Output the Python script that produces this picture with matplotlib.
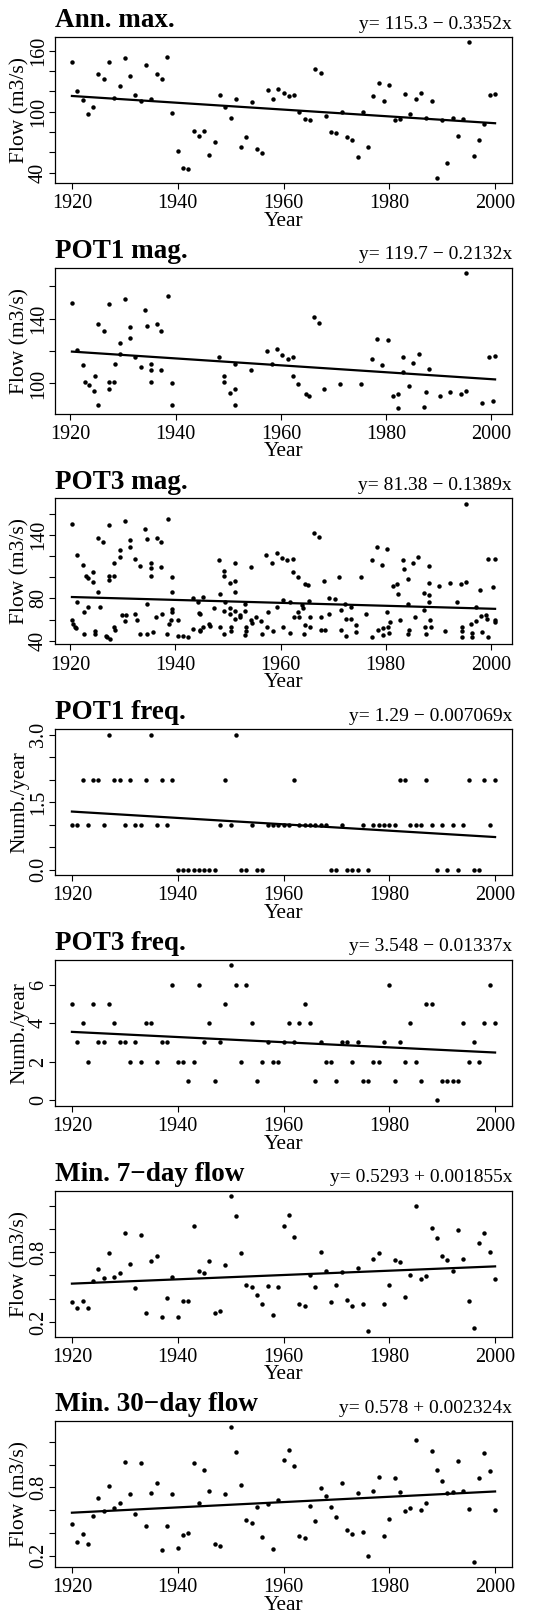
import matplotlib
matplotlib.use("Agg")
import matplotlib.pyplot as plt
import numpy as np

plt.rcParams["font.family"] = ["Liberation Serif", "DejaVu Serif"]

years = np.arange(1920, 2001)

# Ann. max.
ann_max = [149, 120, 111, 98, 104, 137, 132, 149, 113, 125,
           153, 135, 116, 110, 146, 112, 137, 132, 154, 99,
           61, 44, 43, 81, 76, 81, 57, 70, 116, 104,
           94, 112, 65, 75, 109, 63, 59, 121, 112, 122,
           118, 115, 116, 100, 93, 92, 142, 138, 96, 80,
           79, 100, 75, 72, 55, 100, 65, 115, 128, 110,
           126, 92, 93, 117, 98, 112, 118, 94, 110, 35,
           92, 49, 94, 76, 93, 168, 56, 72, 88, 116, 117]

# POT1 magnitudes
pot1_x = [1920.3, 1921.3, 1922.4, 1922.7, 1923.5, 1924.4, 1924.7, 1925.3, 1925.3,
          1926.4, 1927.4, 1927.4, 1927.4, 1928.3, 1928.4, 1929.4, 1929.4, 1930.4,
          1931.3, 1931.3, 1932.3, 1933.4, 1934.2, 1934.6, 1935.3, 1935.3, 1935.3,
          1936.4, 1937.2, 1937.3, 1938.6, 1939.4, 1939.3, 1948.2, 1949.2, 1949.2,
          1950.3, 1951.3, 1951.3, 1951.3, 1954.3, 1957.3, 1958.3, 1959.2, 1960.3,
          1961.3, 1962.3, 1962.3, 1963.3, 1964.7, 1965.3, 1966.3, 1967.3, 1968.2,
          1971.3, 1975.3, 1977.3, 1978.3, 1979.2, 1980.3, 1981.3, 1982.2, 1982.3,
          1983.2, 1983.2, 1984.3, 1985.2, 1986.2, 1987.2, 1987.6, 1988.2, 1990.2,
          1992.2, 1994.2, 1995.2, 1995.2, 1998.3, 1999.5, 2000.3, 2000.7]
pot1_y = [149.6, 120.4, 111.6, 101.2, 98.8, 95.5, 104.9, 136.9, 86.7,
          132.4, 149.0, 101.2, 96.3, 101.2, 112.2, 125.1, 118.0, 151.8,
          134.9, 128.2, 116.5, 110.4, 145.3, 135.5, 112.2, 108.6, 101.2,
          136.7, 132.4, 108.6, 153.9, 100.0, 86.7, 116.5, 104.9, 101.2,
          94.3, 112.2, 96.3, 86.7, 108.6, 120.2, 112.2, 121.4, 117.8,
          115.3, 116.5, 104.3, 99.4, 93.3, 92.0, 141.0, 137.3, 96.3,
          99.4, 99.4, 115.3, 127.6, 111.6, 126.5, 92.0, 93.3, 84.7,
          116.5, 107.3, 98.2, 112.9, 118.4, 85.3, 94.5, 109.2, 92.0,
          94.5, 93.3, 168.0, 95.1, 88.2, 116.5, 89.0, 116.8]

# POT3 magnitudes
pot3_x = [1920.3, 1920.3, 1920.5, 1920.9, 1921.0, 1921.3, 1921.3,
          1922.4, 1922.6, 1922.6, 1923.0, 1923.4, 1923.4,
          1924.4, 1924.4, 1924.6, 1924.6, 1925.3, 1925.3, 1925.6, 1926.3,
          1926.7, 1926.9, 1927.3, 1927.3, 1927.3, 1927.5,
          1928.3, 1928.3, 1928.3, 1928.4, 1929.4, 1929.4,
          1929.9, 1930.4, 1930.4, 1930.5, 1931.3, 1931.3,
          1932.3, 1932.3, 1932.7, 1933.3, 1933.3,
          1934.2, 1934.6, 1934.6, 1934.6, 1935.3, 1935.3, 1935.3, 1935.7,
          1936.4, 1936.3, 1937.3, 1937.3, 1937.5, 1938.3, 1938.6, 1938.8,
          1939.4, 1939.3, 1939.4, 1939.4, 1939.1,
          1940.4, 1940.5, 1941.4, 1942.3, 1943.3, 1943.4,
          1944.2, 1944.4, 1944.6, 1944.6, 1944.6, 1945.2, 1945.3,
          1946.4, 1946.5, 1947.4, 1948.2, 1948.5, 1948.5,
          1949.3, 1949.3, 1949.4, 1949.3, 1949.3,
          1950.3, 1950.3, 1950.3, 1950.5, 1950.5,
          1951.3, 1951.3, 1951.3, 1951.3, 1951.3, 1952.2, 1952.3,
          1953.3, 1953.3, 1953.4, 1953.4, 1953.3,
          1954.3, 1954.4, 1954.6, 1955.3, 1956.3, 1956.5,
          1957.3, 1957.6, 1957.5, 1958.3, 1958.6, 1959.3, 1959.3,
          1960.3, 1960.4, 1960.4, 1961.3, 1961.7, 1961.8,
          1962.3, 1962.3, 1962.5, 1963.3, 1963.3, 1963.5,
          1964.1, 1964.3, 1964.5, 1964.6,
          1964.7, 1965.3, 1965.4, 1965.5, 1965.6, 1966.3,
          1967.3, 1967.6, 1967.6, 1968.2, 1968.5, 1969.3, 1969.3, 1970.3,
          1971.2, 1971.5, 1971.4, 1972.3, 1972.4, 1972.4,
          1973.3, 1973.3, 1974.3, 1974.3, 1975.3, 1976.3,
          1977.3, 1977.3, 1978.3, 1978.6, 1979.2, 1979.4, 1979.4,
          1980.3, 1980.3, 1980.4, 1980.6, 1981.3, 1980.8,
          1982.2, 1982.3, 1982.7, 1983.3, 1983.4,
          1984.3, 1984.3, 1984.5, 1984.3, 1985.2, 1985.5, 1986.2,
          1987.2, 1987.2, 1987.5, 1987.6,
          1988.2, 1988.2, 1988.2, 1988.2, 1988.5, 1988.6,
          1990.2, 1991.2, 1992.2, 1993.5,
          1994.3, 1994.5, 1994.5, 1994.5, 1995.2, 1995.3,
          1996.3, 1996.4, 1996.5, 1997.2, 1997.2,
          1998.0, 1998.2, 1998.3, 1999.0, 1999.3, 1999.4, 1999.5,
          2000.4, 2000.7, 2000.8, 2000.7]
pot3_y = [150.6, 59.5, 56.0, 53.0, 51.8, 120.7, 76.8,
          112.0, 67.4, 46.2, 101.4, 99.5, 72.0,
          105.4, 95.5, 48.7, 46.5, 137.5, 86.0, 72.0, 133.8,
          44.7, 43.1, 149.3, 101.7, 97.0, 41.6,
          101.4, 113.2, 53.4, 50.3, 126.3, 119.4,
          64.0, 153.0, 59.0, 64.0, 135.6, 128.8,
          117.0, 65.5, 60.0, 110.4, 46.2,
          145.9, 136.6, 74.9, 46.2, 113.2, 109.2, 101.0, 48.4,
          137.5, 62.7, 133.8, 109.5, 65.5, 46.2, 155.3, 56.2,
          100.1, 86.0, 69.6, 67.4, 59.6,
          59.6, 44.0, 44.0, 43.1, 80.8, 51.2,
          76.8, 66.5, 65.0, 50.3, 48.7, 81.1, 53.4,
          55.9, 54.0, 70.5, 116.6, 84.6, 53.4,
          105.7, 101.7, 76.8, 68.3, 46.5,
          94.5, 70.5, 65.2, 52.8, 49.0,
          113.2, 96.7, 86.0, 68.3, 60.2, 64.3, 62.1,
          75.2, 68.3, 53.4, 49.3, 45.6,
          109.5, 59.6, 56.5, 62.7, 58.7, 46.2,
          121.0, 67.4, 53.4, 113.2, 48.7, 122.9, 72.0,
          118.2, 78.3, 52.5, 116.0, 76.8, 46.9,
          117.0, 105.1, 62.1, 100.1, 67.1, 62.1,
          73.6, 70.5, 46.2, 55.0,
          93.9, 92.3, 77.7, 62.7, 52.5, 142.2,
          138.4, 62.7, 49.7, 96.4, 50.3, 80.8, 65.2, 79.9,
          100.1, 69.0, 50.3, 74.6, 60.9, 44.0,
          72.0, 60.9, 55.0, 48.4, 100.1, 65.2,
          116.3, 43.1, 128.8, 50.3, 111.3, 51.8, 45.6,
          127.2, 67.4, 53.4, 47.2, 91.4, 58.1,
          93.3, 84.0, 59.6, 116.6, 107.6,
          98.3, 74.9, 50.3, 46.5, 113.2, 62.7, 118.8,
          85.5, 69.0, 53.4, 46.2,
          110.7, 94.5, 83.3, 76.8, 59.6, 53.4,
          91.7, 48.7, 94.5, 76.8,
          93.3, 53.4, 48.7, 43.1, 169.6, 95.5,
          55.9, 47.2, 43.1, 71.5, 59.0,
          87.7, 63.4, 47.8, 64.3, 60.2, 43.4, 117.6,
          90.5, 59.6, 117.0, 58.1]

# POT1 frequency (events per year)
pot1_freq = [1, 1, 2, 1, 2, 2, 1, 3, 2, 2,
             1, 2, 1, 1, 2, 3, 1, 2, 1, 2,
             0, 0, 0, 0, 0, 0, 0, 0, 1, 2,
             1, 3, 0, 0, 1, 0, 0, 1, 1, 1,
             1, 1, 2, 1, 1, 1, 1, 1, 1, 0,
             0, 1, 0, 0, 0, 1, 0, 1, 1, 1,
             1, 1, 2, 2, 1, 1, 1, 2, 1, 0,
             1, 0, 1, 0, 1, 2, 0, 0, 2, 1, 2]

# POT3 frequency
pot3_freq = [5, 3, 4, 2, 5, 3, 3, 5, 4, 3,
             3, 2, 3, 2, 4, 4, 2, 3, 3, 6,
             2, 2, 1, 2, 6, 3, 4, 1, 3, 5,
             7, 6, 2, 6, 4, 1, 2, 3, 2, 2,
             3, 4, 3, 4, 5, 4, 1, 3, 2, 2,
             1, 3, 3, 2, 3, 1, 1, 2, 2, 3,
             6, 1, 3, 2, 4, 2, 1, 5, 5, 0,
             1, 1, 1, 1, 4, 2, 3, 2, 4, 6, 4]

# Min. 7-day flow
min7 = [0.367, 0.316, 0.381, 0.316, 0.554, 0.656, 0.579, 0.792, 0.588, 0.622,
        0.961, 0.698, 0.494, 0.944, 0.274, 0.724, 0.766, 0.240, 0.409, 0.588,
        0.240, 0.384, 0.384, 1.021, 0.639, 0.622, 0.724, 0.274, 0.291, 0.690,
        1.284, 1.114, 0.792, 0.520, 0.497, 0.435, 0.358, 0.511, 0.257, 0.497,
        1.021, 1.123, 0.927, 0.358, 0.341, 0.605, 0.503, 0.800, 0.639, 0.375,
        0.520, 0.630, 0.392, 0.341, 0.664, 0.358, 0.121, 0.741, 0.792, 0.350,
        0.520, 0.732, 0.715, 0.418, 0.605, 1.199, 0.571, 0.596, 1.004, 0.919,
        0.766, 0.732, 0.639, 0.987, 0.741, 0.384, 0.146, 0.876, 0.961, 0.800,
        0.571]

# Min. 30-day flow
min30 = [0.478, 0.320, 0.394, 0.306, 0.551, 0.709, 0.595, 0.812, 0.622, 0.665,
         1.025, 0.744, 0.569, 1.016, 0.464, 0.753, 0.841, 0.253, 0.464, 0.744,
         0.271, 0.385, 0.402, 1.016, 0.665, 0.955, 0.771, 0.306, 0.288, 0.744,
         1.332, 1.113, 0.823, 0.516, 0.490, 0.630, 0.367, 0.657, 0.262, 0.692,
         1.043, 1.130, 0.990, 0.376, 0.358, 0.639, 0.508, 0.797, 0.727, 0.630,
         0.543, 0.841, 0.429, 0.394, 0.753, 0.411, 0.201, 0.771, 0.894, 0.376,
         0.525, 0.885, 0.762, 0.595, 0.622, 1.218, 0.604, 0.665, 1.122, 0.955,
         0.858, 0.753, 0.762, 1.034, 0.771, 0.613, 0.148, 0.885, 1.104, 0.946,
         0.604]

titles = ["Ann. max.", "POT1 mag.", "POT3 mag.", "POT1 freq.", "POT3 freq.",
          "Min. 7\u2212day flow", "Min. 30\u2212day flow"]
equations = ["y= 115.3 \u2212 0.3352x", "y= 119.7 \u2212 0.2132x",
             "y= 81.38 \u2212 0.1389x", "y= 1.29 \u2212 0.007069x",
             "y= 3.548 \u2212 0.01337x", "y= 0.5293 + 0.001855x",
             "y= 0.578 + 0.002324x"]
intercepts = [115.3, 119.7, 81.38, 1.29, 3.548, 0.5293, 0.578]
slopes = [-0.3352, -0.2132, -0.1389, -0.007069, -0.01337, 0.001855, 0.002324]
ylabels = ["Flow (m3/s)", "Flow (m3/s)", "Flow (m3/s)", "Numb./year",
           "Numb./year", "Flow (m3/s)", "Flow (m3/s)"]
yticks = [[40, 60, 80, 100, 120, 140, 160],
          [100, 120, 140, 160],
          [40, 60, 80, 100, 120, 140, 160],
          [0.0, 0.5, 1.0, 1.5, 2.0, 2.5, 3.0],
          [0, 2, 4, 6],
          [0.2, 0.4, 0.6, 0.8, 1.0, 1.2],
          [0.2, 0.4, 0.6, 0.8, 1.0, 1.2]]
ytick_labels = [["40", "", "", "100", "", "", "160"],
                ["100", "", "140", ""],
                ["40", "", "80", "", "", "140", ""],
                ["0.0", "", "", "1.5", "", "", "3.0"],
                ["0", "2", "4", "6"],
                ["0.2", "", "", "0.8", "", ""],
                ["0.2", "", "", "0.8", "", ""]]
xticks = [1920, 1940, 1960, 1980, 2000]

series = [(years, ann_max), (pot1_x, pot1_y), (pot3_x, pot3_y),
          (years, pot1_freq), (years, pot3_freq), (years, min7), (years, min30)]

W, H = 555, 1617
fig = plt.figure(figsize=(W / 100, H / 100), dpi=100)

for i, (xs, ys) in enumerate(series):
    xs = np.asarray(xs, dtype=float)
    ys = np.asarray(ys, dtype=float)
    top = 37 + 230.7 * i
    h = 146
    ax = fig.add_axes([55 / W, 1 - (top + h) / H, 457 / W, h / H])

    ax.plot(xs, ys, "o", color="black", markersize=3.2, markeredgewidth=0)
    lx = np.array([xs.min(), xs.max()])
    ax.plot(lx, intercepts[i] + slopes[i] * (lx - 1920), color="black", linewidth=1.6)

    # R style 4% axis extension
    dx = (xs.max() - xs.min()) * 0.04
    dy = (ys.max() - ys.min()) * 0.04
    ax.set_xlim(xs.min() - dx, xs.max() + dx)
    ax.set_ylim(ys.min() - dy, ys.max() + dy)

    ax.set_xticks(xticks)
    ax.set_yticks(yticks[i])
    ax.set_yticklabels(ytick_labels[i], rotation=90, va="center")
    ax.tick_params(direction="out", length=4, width=0.8, labelsize=14.5)
    ax.tick_params(axis="x", pad=4)
    ax.tick_params(axis="y", pad=1)
    for sp in ax.spines.values():
        sp.set_linewidth(0.9)

    ax.set_xlabel("Year", fontsize=15.5, labelpad=-1)
    ax.set_ylabel(ylabels[i], fontsize=15.5, labelpad=0)

    ax.annotate(titles[i], xy=(0, 1), xycoords="axes fraction", xytext=(0, 7),
                textcoords="offset points", ha="left", va="baseline",
                fontsize=19.5, fontweight="bold")
    ax.annotate(equations[i], xy=(1, 1), xycoords="axes fraction", xytext=(0, 6),
                textcoords="offset points", ha="right", va="baseline",
                fontsize=14)

fig.savefig("out.png", dpi=100)
